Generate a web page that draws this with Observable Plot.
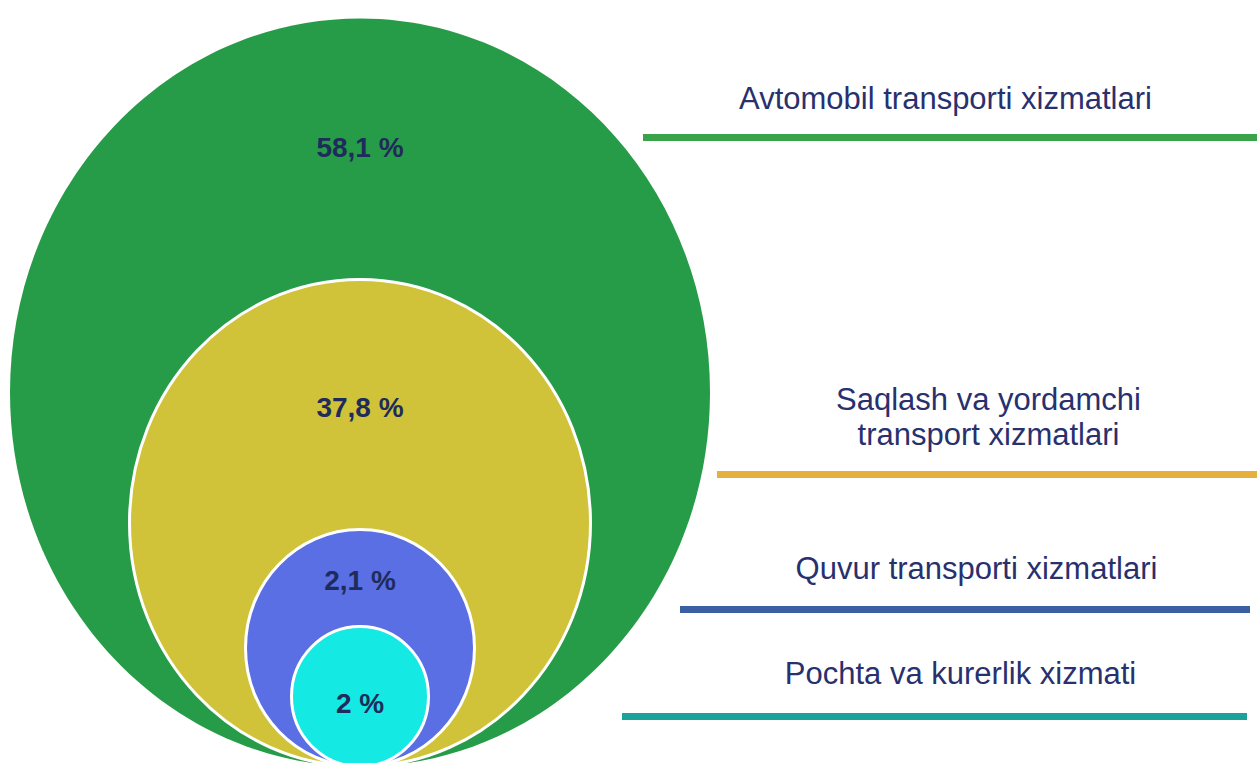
<!DOCTYPE html>
<html>
<head>
<meta charset="utf-8">
<script src="https://cdn.jsdelivr.net/npm/d3@7"></script>
<script src="https://cdn.jsdelivr.net/npm/@observablehq/plot@0.6"></script>
<style>
  html, body { margin: 0; padding: 0; background: #fff; }
  #chart svg { display: block; }
</style>
</head>
<body>
<div id="chart"></div>
<script>
// ---- Data ----
const categories = [
  "Avtomobil transporti xizmatlari",
  "Saqlash va yordamchi\ntransport xizmatlari",
  "Quvur transporti xizmatlari",
  "Pochta va kurerlik xizmati"
];
const shares = [58.1, 37.8, 2.1, 2];

// ---- Styles / layout (not data) ----
const fills = ["#269b48", "#d0c33a", "#5a6fe3", "#14e9e4"];
const lineColors = ["#3ba24c", "#e5b03b", "#3a5fa2", "#1ba39a"];
const W = 1257, H = 763;
const center = 359.5, base = 766;            // ellipses share a common bottom point
const radiusY = [374, 243.5, 118.5, 70];
const radiusX = [350, 230.5, 114.5, 68.5];
const labelY = [148, 408, 581, 704];
const legendTextX = [945, 988, 976, 960];
const legendTextY = [97, 415.5, 567, 672];
const legendLineY = [137, 474, 609, 716];
const legendLineX1 = [643, 717, 680, 622];
const legendLineX2 = [1257, 1257, 1250, 1247];

const fmt = v => String(v).replace(".", ",") + " %";

function ellipseSymbol(aspect) {
  return {
    draw(ctx, size) {
      const ry = Math.sqrt(size / Math.PI), rx = ry * aspect, k = 0.5522847498;
      ctx.moveTo(rx, 0);
      ctx.bezierCurveTo(rx, k * ry, k * rx, ry, 0, ry);
      ctx.bezierCurveTo(-k * rx, ry, -rx, k * ry, -rx, 0);
      ctx.bezierCurveTo(-rx, -k * ry, -k * rx, -ry, 0, -ry);
      ctx.bezierCurveTo(k * rx, -ry, rx, -k * ry, rx, 0);
      ctx.closePath();
    }
  };
}

const rows = categories.map((c, i) => ({
  category: c, share: shares[i], label: fmt(shares[i]), i
}));

const ellipseMarks = rows.map(d => Plot.dot([d], {
  x: () => center,
  y: () => base - radiusY[d.i],
  r: radiusY[d.i],
  symbol: ellipseSymbol(radiusX[d.i] / radiusY[d.i]),
  fill: fills[d.i],
  stroke: d.i === 0 ? "none" : "white",
  strokeWidth: 3
}));

const chart = Plot.plot({
  width: W,
  height: H,
  margin: 0,
  x: {type: "identity", axis: null},
  y: {type: "identity", axis: null},
  style: {fontFamily: "'Liberation Sans', Arial, sans-serif", background: "white"},
  marks: [
    ...ellipseMarks,
    Plot.text(rows, {
      x: () => center,
      y: d => labelY[d.i],
      text: "label",
      fontSize: 28,
      fontWeight: "bold",
      fill: "#1f2b5b"
    }),
    Plot.ruleY(rows, {
      y: d => legendLineY[d.i],
      x1: d => legendLineX1[d.i],
      x2: d => legendLineX2[d.i],
      stroke: d => lineColors[d.i],
      strokeWidth: 7
    }),
    Plot.text(rows, {
      x: d => legendTextX[d.i],
      y: d => legendTextY[d.i],
      text: "category",
      fontSize: 31,
      lineHeight: 1.13,
      fill: "#28306e"
    })
  ]
});
document.getElementById("chart").appendChild(chart);
</script>
</body>
</html>
